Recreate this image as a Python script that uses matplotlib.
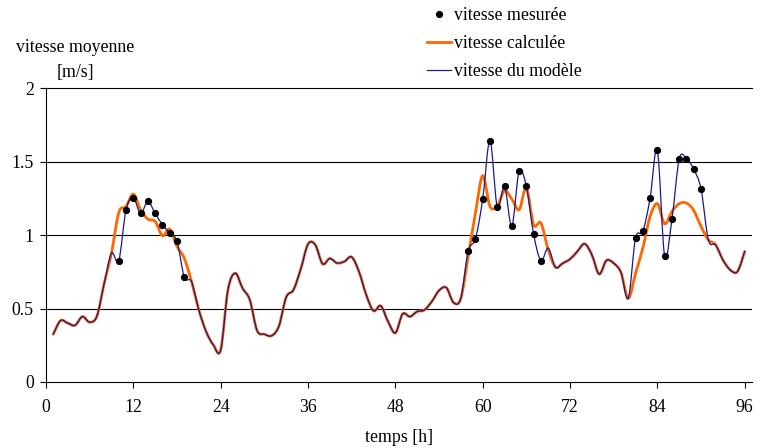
import numpy as np
import matplotlib
matplotlib.use("Agg")
import matplotlib.pyplot as plt
from matplotlib.path import Path
from matplotlib.patches import PathPatch
from matplotlib.lines import Line2D

# ---------------- data ----------------
hours = list(range(1, 97))

vitesse_modele = [
    0.325, 0.418, 0.400, 0.386, 0.445, 0.407, 0.449, 0.672, 0.877, 0.826,   # 1-10
    1.173, 1.251, 1.147, 1.228, 1.147, 1.070, 1.013, 0.958, 0.713, 0.683,   # 11-20
    0.490, 0.343, 0.252, 0.218, 0.627, 0.740, 0.638, 0.559, 0.350, 0.325,   # 21-30
    0.315, 0.380, 0.577, 0.627, 0.768, 0.938, 0.933, 0.804, 0.840, 0.809,   # 31-40
    0.820, 0.850, 0.751, 0.593, 0.484, 0.518, 0.411, 0.334, 0.463, 0.445,   # 41-50
    0.479, 0.490, 0.547, 0.622, 0.642, 0.540, 0.570, 0.892, 0.974, 1.245,   # 51-60
    1.642, 1.190, 1.330, 1.060, 1.433, 1.330, 1.004, 0.826, 0.911, 0.781,   # 61-70
    0.808, 0.836, 0.888, 0.940, 0.865, 0.734, 0.827, 0.808, 0.745, 0.570,   # 71-80
    0.979, 1.024, 1.251, 1.576, 0.854, 1.108, 1.517, 1.519, 1.446, 1.313,   # 81-90
    0.967, 0.933, 0.831, 0.763, 0.751, 0.888,                               # 91-96
]

vitesse_calculee = [
    0.325, 0.418, 0.400, 0.386, 0.445, 0.407, 0.449, 0.672, 0.877, 1.153,   # 1-10
    1.194, 1.278, 1.172, 1.108, 1.092, 0.995, 1.040, 0.922, 0.842, 0.683,   # 11-20
    0.490, 0.343, 0.252, 0.218, 0.627, 0.740, 0.638, 0.559, 0.350, 0.325,   # 21-30
    0.315, 0.380, 0.577, 0.627, 0.768, 0.938, 0.933, 0.804, 0.840, 0.809,   # 31-40
    0.820, 0.850, 0.751, 0.593, 0.484, 0.518, 0.411, 0.334, 0.463, 0.445,   # 41-50
    0.479, 0.490, 0.547, 0.622, 0.642, 0.540, 0.570, 0.854, 1.149, 1.403,   # 51-60
    1.194, 1.199, 1.300, 1.245, 1.172, 1.319, 1.069, 1.081, 0.899, 0.781,   # 61-70
    0.808, 0.836, 0.888, 0.940, 0.865, 0.734, 0.827, 0.808, 0.745, 0.570,   # 71-80
    0.740, 0.911, 1.126, 1.213, 1.076, 1.160, 1.213, 1.217, 1.167, 1.058,   # 81-90
    0.967, 0.933, 0.831, 0.763, 0.751, 0.888,                               # 91-96
]

heures_mesure = [10, 11, 12, 13, 14, 15, 16, 17, 18, 19,
                 58, 59, 60, 61, 62, 63, 64, 65, 66, 67, 68,
                 81, 82, 83, 84, 85, 86, 87, 88, 89, 90]
vitesse_mesuree = [0.826, 1.173, 1.251, 1.147, 1.228, 1.147, 1.070, 1.013, 0.958, 0.713,
                   0.892, 0.974, 1.245, 1.642, 1.190, 1.330, 1.060, 1.433, 1.330, 1.004, 0.826,
                   0.979, 1.024, 1.251, 1.576, 0.854, 1.108, 1.517, 1.519, 1.446, 1.313]

x_ticks = [0, 12, 24, 36, 48, 60, 72, 84, 96]
y_ticks = [0, 0.5, 1, 1.5, 2]
y_tick_labels = ["0", "0.5", "1", "1.5", "2"]

# ---------------- style ----------------
FONT = "Liberation Serif"
FS = 12.8
plt.rcParams["font.family"] = [FONT, "DejaVu Serif"]

W, H = 764, 448
fig = plt.figure(figsize=(W / 100, H / 100), dpi=100)
ax = fig.add_axes([46 / W, 1 - 382 / H, (752 - 46) / W, (382 - 88) / H])


def smooth_path(x, y):
    """Excel-like smoothed line (cubic Bezier through the data points)."""
    pts = np.column_stack([x, y]).astype(float)
    n = len(pts)
    verts = [pts[0]]
    codes = [Path.MOVETO]
    for i in range(n - 1):
        p0 = pts[i - 1] if i > 0 else pts[i]
        p1 = pts[i]
        p2 = pts[i + 1]
        p3 = pts[i + 2] if i + 2 < n else pts[i + 1]
        c1 = p1 + (p2 - p0) / 6.0
        c2 = p2 - (p3 - p1) / 6.0
        verts += [c1, c2, p2]
        codes += [Path.CURVE4] * 3
    return Path(verts, codes)


orange = "#FF6600"
navy = "#1A1A8C"

ax.add_patch(PathPatch(smooth_path(hours, vitesse_calculee), facecolor="none",
                       edgecolor=orange, lw=2.0, capstyle="round", joinstyle="round", zorder=3))
ax.add_patch(PathPatch(smooth_path(hours, vitesse_modele), facecolor="none",
                       edgecolor=navy, lw=0.9, capstyle="round", joinstyle="round", zorder=4))
ax.plot(heures_mesure, vitesse_mesuree, "o", color="black", markersize=4.2, zorder=5)

ax.set_xlim(0, 97)
ax.set_ylim(0, 2)
ax.set_xticks(x_ticks)
ax.set_xticklabels([str(t) for t in x_ticks])
ax.set_yticks(y_ticks)
ax.set_yticklabels(y_tick_labels)

ax.spines["right"].set_visible(False)
for s in ["left", "bottom", "top"]:
    ax.spines[s].set_color("black")
    ax.spines[s].set_linewidth(0.8)

for yv in [0.5, 1, 1.5]:
    ax.axhline(yv, color="black", lw=0.8, zorder=1)

ax.tick_params(axis="both", direction="out", length=4.3, width=0.8, color="black",
               labelsize=FS)
ax.tick_params(axis="x", pad=8)
ax.tick_params(axis="y", pad=4.5)
for lab in ax.get_xticklabels() + ax.get_yticklabels():
    lab.set_fontfamily(FONT)

ax.set_xlabel("temps [h]", fontsize=FS, fontfamily=FONT, labelpad=9)

fig.text(75 / W, 1 - 48 / H, "vitesse moyenne", ha="center", va="center",
         fontsize=FS, fontfamily=FONT)
fig.text(75 / W, 1 - 73 / H, "[m/s]", ha="center", va="center",
         fontsize=FS, fontfamily=FONT)

handles = [
    Line2D([], [], marker="o", ls="none", color="black", markersize=4.2),
    Line2D([], [], color=orange, lw=2.0),
    Line2D([], [], color=navy, lw=0.9),
]
labels = ["vitesse mesurée", "vitesse calculée", "vitesse du modèle"]
fig.legend(handles, labels, loc="upper left", bbox_to_anchor=(427 / W, 1 - 7 / H),
           bbox_transform=fig.transFigure, frameon=False,
           prop={"family": FONT, "size": FS}, handlelength=1.35, handletextpad=0.15,
           labelspacing=0.62, borderpad=0, borderaxespad=0)

fig.savefig("out.png", dpi=100)
